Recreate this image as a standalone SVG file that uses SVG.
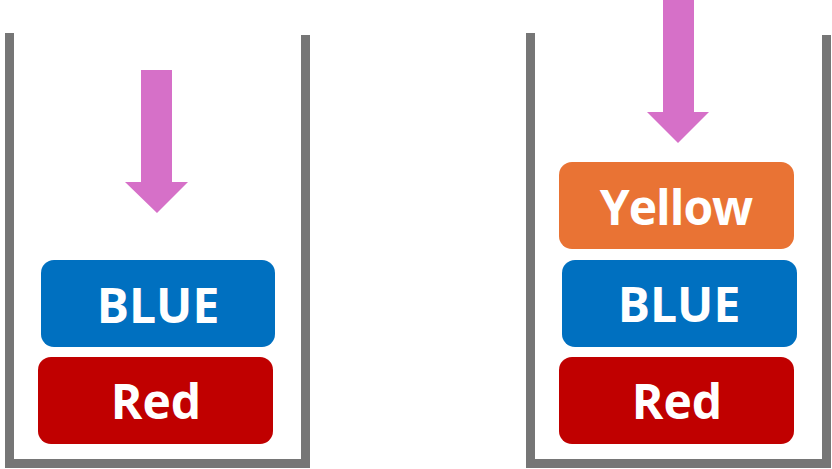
<svg xmlns="http://www.w3.org/2000/svg" width="832" height="469" viewBox="0 0 832 469">
<style>
.wall{fill:#767676}
.arrow{fill:#D670C8}
.lbl{font-family:"Open Sans","Noto Sans",sans-serif;font-weight:bold;font-size:48px;fill:#FFFFFF;text-anchor:middle}
.blue{fill:#0070C0}
.red{fill:#C00000}
.orange{fill:#E97334}
</style>
<rect width="832" height="469" fill="#FFFFFF"/>
<g id="stack-left">
<rect class="wall" x="5" y="33" width="9" height="435"/>
<rect class="wall" x="301" y="35" width="9" height="433"/>
<rect class="wall" x="5" y="459" width="305" height="9"/>
</g>
<g id="stack-right">
<rect class="wall" x="526" y="33" width="9" height="435"/>
<rect class="wall" x="822" y="35" width="9" height="433"/>
<rect class="wall" x="526" y="459" width="305" height="9"/>
</g>
<g id="connectors">
<polygon id="arrow-left" class="arrow" points="141,70 172,70 172,182 188,182 157,213 125,182 141,182"/>
<polygon id="arrow-right" class="arrow" points="663,0 694,0 694,112 709,112 678,143 647,112 663,112"/>
</g>
<g id="left-blue">
<rect class="blue" x="41" y="260" width="234" height="87" rx="13"/>
<text class="lbl" x="158" y="323">BLUE</text>
</g>
<g id="left-red">
<rect class="red" x="38" y="357" width="235" height="87" rx="13"/>
<text class="lbl" x="156" y="419">Red</text>
</g>
<g id="right-yellow">
<rect class="orange" x="559" y="162" width="235" height="87" rx="13"/>
<text class="lbl" x="676" y="225" letter-spacing="-1">Yellow</text>
</g>
<g id="right-blue">
<rect class="blue" x="562" y="260" width="235" height="87" rx="13"/>
<text class="lbl" x="679" y="322">BLUE</text>
</g>
<g id="right-red">
<rect class="red" x="559" y="357" width="235" height="87" rx="13"/>
<text class="lbl" x="677" y="419">Red</text>
</g>
</svg>
